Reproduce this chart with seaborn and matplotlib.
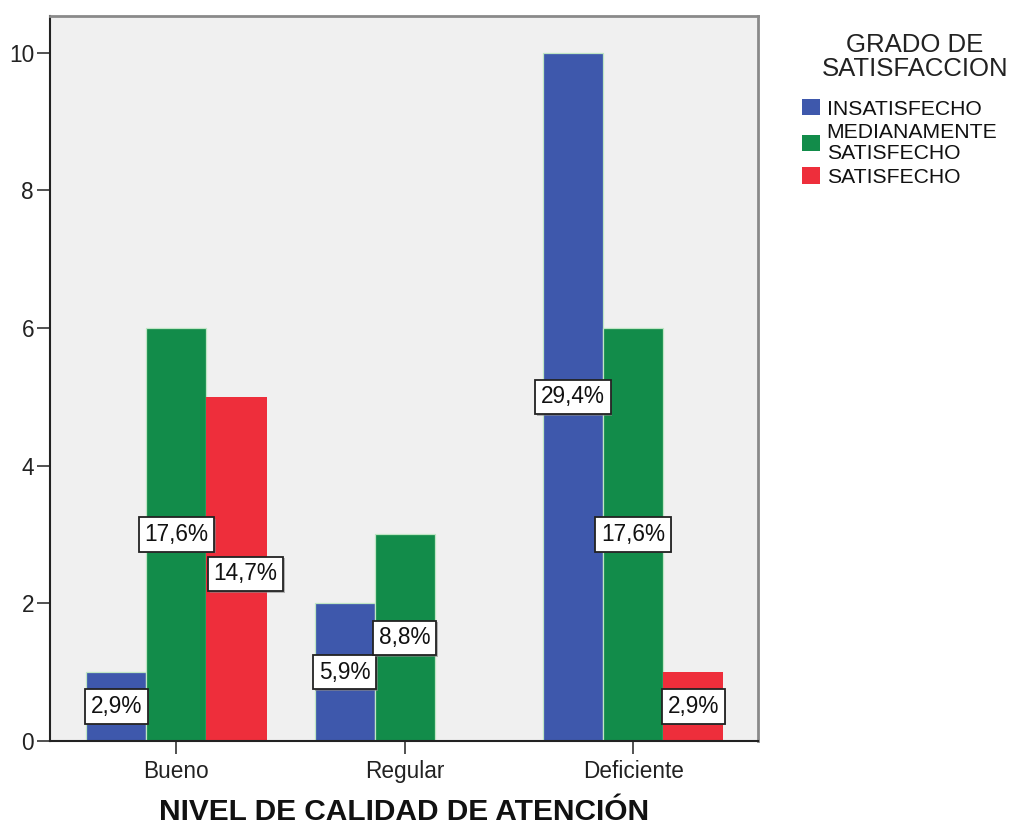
import matplotlib
matplotlib.use("Agg")
import matplotlib.pyplot as plt
import matplotlib.patheffects as pe
import seaborn as sns
import pandas as pd
import numpy as np

# ---- data ----
niveles = ["Bueno", "Regular", "Deficiente"]
grados = ["INSATISFECHO", "MEDIANAMENTE\nSATISFECHO", "SATISFECHO"]
insatisfecho = [1, 2, 10]
medianamente = [6, 3, 6]
satisfecho = [5, 0, 1]
total_n = 34
y_ticks = [0, 2, 4, 6, 8, 10]

colors = ["#3e58ac", "#128c4a", "#ee2e3b"]

sns.set_style("white")
plt.rcParams["font.family"] = ["Liberation Sans", "DejaVu Sans"]

rows = []
for i, n in enumerate(niveles):
    for g, vals in zip(grados, [insatisfecho, medianamente, satisfecho]):
        rows.append({"nivel": n, "grado": g, "conteo": vals[i]})
df = pd.DataFrame(rows)

fig = plt.figure(figsize=(10.19, 8.26), dpi=100)
ax = fig.add_axes([0.0491, 0.1029, 0.6948, 0.8777])
ax.set_facecolor("#f0f0f0")

sns.barplot(data=df, x="nivel", y="conteo", hue="grado", order=niveles,
            hue_order=grados, palette=colors, width=0.79, ax=ax,
            saturation=1, errorbar=None, linewidth=0)

# light edges like the original, and labels
for ci, cont in enumerate(ax.containers):
    for bi, bar in enumerate(cont):
        h = bar.get_height()
        if h <= 0:
            bar.set_visible(False)
            continue
        if ci < 2:
            bar.set_edgecolor("#bfe6c4")
            bar.set_linewidth(0.9)
        pct = h / total_n * 100
        txt = f"{pct:.1f}%".replace(".", ",")
        x = bar.get_x() + bar.get_width() / 2
        dx, dy = 0, 0
        if niveles[bi] == "Bueno" and ci == 2:
            dx, dy = 6.5, -3.5  # nudge to avoid overlap
        t = ax.annotate(txt, (x, h / 2), xytext=(dx, dy), textcoords="offset points",
                        ha="center", va="center", fontsize=16.3, color="#111111",
                        bbox=dict(boxstyle="square,pad=0.25", fc="white", ec="#222222", lw=1.3),
                        zorder=5)
        t.get_bbox_patch().set_path_effects([
            pe.SimplePatchShadow(offset=(1.2, -1.2), shadow_rgbFace="#888888", alpha=0.6),
            pe.Normal()])

ax.set_xlim(-0.553, 2.547)
ax.set_ylim(0, 10.53)
ax.set_yticks(y_ticks)
ax.set_yticklabels([str(v) for v in y_ticks])

ax.tick_params(axis="both", which="major", direction="out", length=9.5, width=1.1,
               color="#222222", labelsize=16.3, labelcolor="#222222", pad=2,
               left=True, bottom=True)
ax.tick_params(axis="x", pad=4)

for s in ["left", "bottom"]:
    ax.spines[s].set_color("#222222")
    ax.spines[s].set_linewidth(1.5)
for s in ["top", "right"]:
    ax.spines[s].set_color("#8a8a8a")
    ax.spines[s].set_linewidth(2.0)

ax.set_ylabel("")
ax.set_xlabel("NIVEL DE CALIDAD DE ATENCIÓN", fontsize=21.5, fontweight="bold",
              color="#111111", labelpad=11)

handles, labels = ax.get_legend_handles_labels()
leg = ax.legend(handles, labels, frameon=False,
                loc="upper left", bbox_to_anchor=(802 / 1019, 1 - 99 / 826),
                bbox_transform=fig.transFigure, fontsize=15.2,
                handlelength=0.87, handleheight=0.82,
                handletextpad=0.3, labelspacing=0.22, borderpad=0,
                borderaxespad=0)
for t in leg.get_texts():
    t.set_linespacing(1.1)
    t.set_color("#111111")

fig.text(915 / 1019, 1 - 57 / 826, "GRADO DE\nSATISFACCION", ha="center", va="center",
         multialignment="center", fontsize=18.5, linespacing=0.95, color="#222222")

fig.savefig("out.png", dpi=100, facecolor="white")
